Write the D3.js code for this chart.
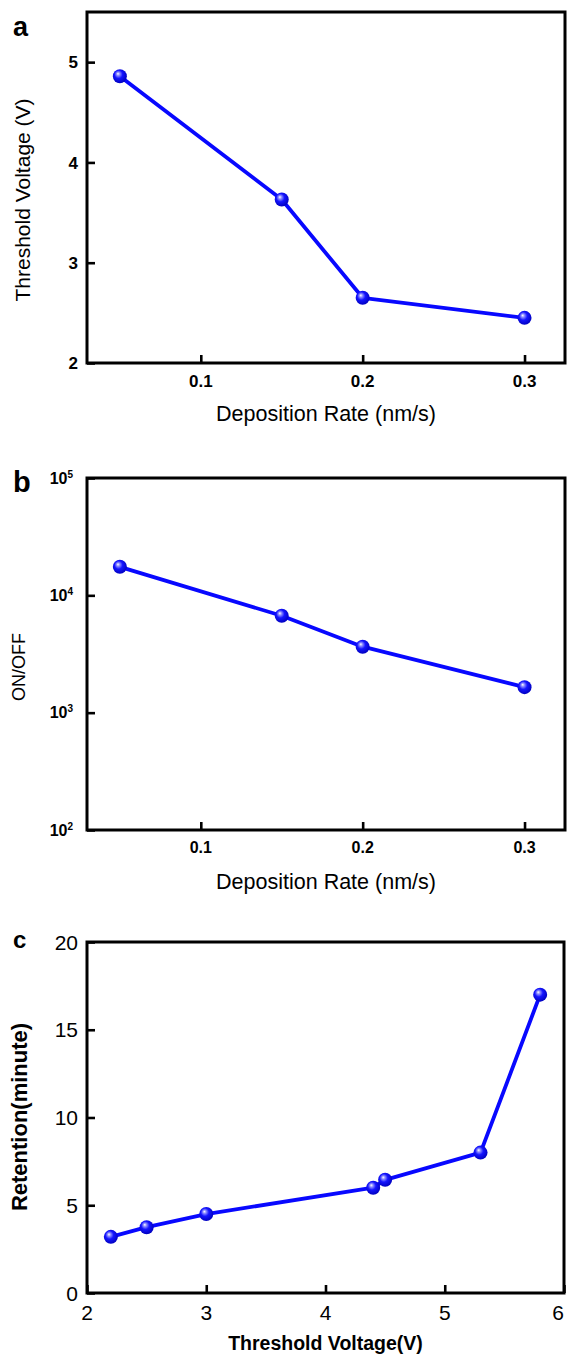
<!DOCTYPE html>
<html>
<head>
<meta charset="utf-8">
<script src="https://cdn.jsdelivr.net/npm/d3@7"></script>
<style>
  body { margin: 0; background: #fff; }
  svg { display: block; font-family: "Liberation Sans", Arial, sans-serif; }
</style>
</head>
<body>
<svg id="chart" width="567" height="1354"></svg>
<script>
// panel a: threshold voltage vs deposition rate
const rateA = [0.05, 0.15, 0.2, 0.3];
const vthA = [4.86, 3.63, 2.65, 2.45];
// panel b: on/off ratio vs deposition rate
const rateB = [0.05, 0.15, 0.2, 0.3];
const onoffB = [17500, 6700, 3650, 1650];
// panel c: retention vs threshold voltage
const vthC = [2.2, 2.5, 3.0, 4.4, 4.5, 5.3, 5.8];
const retC = [3.2, 3.75, 4.5, 6.0, 6.45, 8.0, 17.0];

const rateTicks = [0.1, 0.2, 0.3];
const vthTicksA = [2, 3, 4, 5];
const onoffTicks = [100, 1000, 10000, 100000];
const vthTicksC = [2, 3, 4, 5, 6];
const retTicks = [0, 5, 10, 15, 20];

const svg = d3.select("#chart");
const W = +svg.attr("width");

// shiny ball marker
const grad = svg.append("defs").append("radialGradient")
  .attr("id", "ball").attr("cx", "45%").attr("cy", "42%").attr("r", "58%")
  .attr("fx", "36%").attr("fy", "32%");
grad.append("stop").attr("offset", "0%").attr("stop-color", "#ffffff");
grad.append("stop").attr("offset", "20%").attr("stop-color", "#9090ff");
grad.append("stop").attr("offset", "50%").attr("stop-color", "#1515ff");
grad.append("stop").attr("offset", "100%").attr("stop-color", "#0000c0");

function drawPanel(p) {
  const g = svg.append("g");
  const x = d3.scaleLinear().domain(p.xDomain).range([p.left, p.right]);
  const y = (p.log ? d3.scaleLog() : d3.scaleLinear()).domain(p.yDomain).range([p.bottom, p.top]);

  // inward ticks
  const gx = g.append("g").attr("transform", `translate(0,${p.bottom})`)
    .call(d3.axisBottom(x).tickValues(p.xTicks).tickSize(-8).tickFormat(""));
  const gy = g.append("g").attr("transform", `translate(${p.left},0)`)
    .call(d3.axisLeft(y).tickValues(p.yTicks).tickSize(-8).tickFormat(""));
  [gx, gy].forEach(a => {
    a.select(".domain").remove();
    a.selectAll(".tick line").attr("stroke", "#000").attr("stroke-width", 2.6);
  });

  // tick labels (keep the last one inside the page edge)
  g.selectAll("text.xl").data(p.xTicks).join("text").attr("class", "xl")
    .attr("x", d => Math.min(x(d), W - 1)).attr("y", p.bottom + p.xLabOff)
    .attr("text-anchor", d => x(d) > W - 10 ? "end" : "middle")
    .style("font-size", p.tickSize + "px").style("font-weight", p.tickWeight)
    .text(p.xFormat);

  const yl = g.selectAll("text.yl").data(p.yTicks).join("text").attr("class", "yl")
    .attr("x", p.yLabRight).attr("y", d => y(d)).attr("dy", "0.36em")
    .attr("text-anchor", "end")
    .style("font-size", p.tickSize + "px").style("font-weight", p.tickWeight);
  if (p.log) {
    yl.each(function (d) {
      const t = d3.select(this);
      t.append("tspan").text("10");
      t.append("tspan").attr("dy", "-0.6em").style("font-size", "10px")
        .text(Math.round(Math.log10(d)));
    });
  } else {
    yl.text(p.yFormat);
  }

  // frame
  g.append("rect")
    .attr("x", p.left).attr("y", p.top)
    .attr("width", p.right - p.left).attr("height", p.bottom - p.top)
    .attr("fill", "none").attr("stroke", "#000").attr("stroke-width", 3);

  // data
  const pts = p.xs.map((v, i) => [v, p.ys[i]]);
  g.append("path").datum(pts)
    .attr("fill", "none").attr("stroke", "#0808ff").attr("stroke-width", 3.8)
    .attr("stroke-linejoin", "round")
    .attr("d", d3.line().x(d => x(d[0])).y(d => y(d[1])));
  g.selectAll("circle.pt").data(pts).join("circle")
    .attr("class", "pt")
    .attr("cx", d => x(d[0])).attr("cy", d => y(d[1])).attr("r", 7)
    .attr("fill", "url(#ball)");

  // panel letter and titles
  g.append("text").attr("x", 13).attr("y", p.letterY)
    .style("font-size", p.letterSize + "px").style("font-weight", "bold").text(p.letter);
  g.append("text")
    .attr("x", (p.left + p.right) / 2).attr("y", p.xTitleY)
    .attr("text-anchor", "middle")
    .style("font-size", p.xTitleSize + "px").style("font-weight", p.titleWeight)
    .text(p.xTitle);
  g.append("text")
    .attr("transform", `translate(${p.yTitleX},${p.yTitleMid}) rotate(-90)`)
    .attr("text-anchor", "middle")
    .style("font-size", p.yTitleSize + "px").style("font-weight", p.titleWeight)
    .text(p.yTitle);
}

drawPanel({
  letter: "a", letterY: 36, letterSize: 27,
  left: 87, right: 565, top: 12, bottom: 363,
  xDomain: [0.0297, 0.325], yDomain: [2, 5.5],
  xTicks: rateTicks, yTicks: vthTicksA, xFormat: d3.format(".1f"), yFormat: d3.format("d"),
  xs: rateA, ys: vthA,
  tickSize: 17, tickWeight: "bold", xLabOff: 24, yLabRight: 78,
  xTitle: "Deposition Rate (nm/s)", yTitle: "Threshold Voltage (V)",
  xTitleY: 421, xTitleSize: 21.5, yTitleX: 30, yTitleMid: 200, yTitleSize: 21,
  titleWeight: "normal"
});

drawPanel({
  letter: "b", letterY: 492, letterSize: 29,
  left: 87, right: 565, top: 478, bottom: 830, log: true,
  xDomain: [0.0297, 0.325], yDomain: [100, 100000],
  xTicks: rateTicks, yTicks: onoffTicks, xFormat: d3.format(".1f"),
  xs: rateB, ys: onoffB,
  tickSize: 16, tickWeight: "bold", xLabOff: 23, yLabRight: 73,
  xTitle: "Deposition Rate (nm/s)", yTitle: "ON/OFF",
  xTitleY: 889, xTitleSize: 21.5, yTitleX: 25, yTitleMid: 667, yTitleSize: 18,
  titleWeight: "normal"
});

drawPanel({
  letter: "c", letterY: 948, letterSize: 24,
  left: 87, right: 564, top: 942, bottom: 1293,
  xDomain: [2, 6], yDomain: [0, 20],
  xTicks: vthTicksC, yTicks: retTicks, xFormat: d3.format("d"), yFormat: d3.format("d"),
  xs: vthC, ys: retC,
  tickSize: 21, tickWeight: "normal", xLabOff: 27, yLabRight: 78,
  xTitle: "Threshold Voltage(V)", yTitle: "Retention(minute)",
  xTitleY: 1350, xTitleSize: 19.5, yTitleX: 27, yTitleMid: 1117, yTitleSize: 22,
  titleWeight: "bold"
});
</script>
</body>
</html>
